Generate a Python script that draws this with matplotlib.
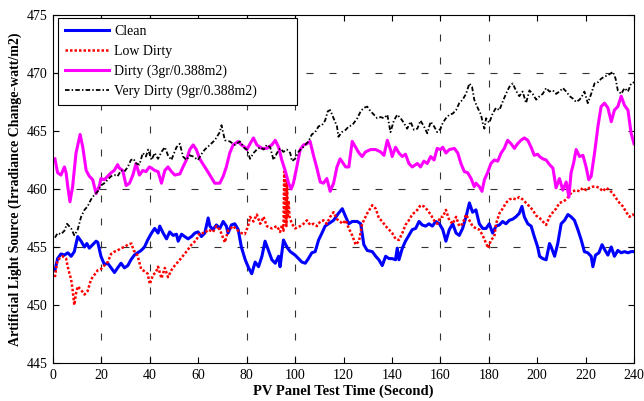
import matplotlib
matplotlib.use("Agg")
import matplotlib.pyplot as plt

plt.rcParams['font.family'] = ['Liberation Serif', 'DejaVu Serif']

# --- data ---
clean_t = [0.8, 1.9, 3.3, 4.7, 6.1, 7.5, 8.8, 10.2, 11.6, 13.0, 14.0, 15.0, 16.4, 17.8, 18.5, 19.8, 21.2, 22.6,
           24.0, 25.4, 26.7, 28.1, 29.5, 30.9, 32.2, 33.6, 35.0, 36.4, 37.8, 39.1, 40.7, 42.0, 43.4, 44.1, 45.5,
           46.9, 48.2, 49.6, 51.0, 51.7, 53.1, 54.4, 55.8, 57.2, 58.6, 59.9, 61.3, 62.7, 64.1, 64.8, 66.1, 67.5,
           68.9, 70.3, 71.6, 72.3, 73.7, 75.1, 76.5, 77.8, 79.4, 80.8, 82.1, 83.5, 84.9, 86.3, 87.6, 89.0, 90.4,
           91.8, 93.2, 93.8, 95.2, 96.6, 98.0, 100.0, 101.4, 102.8, 104.2, 105.5, 106.9, 108.3, 109.7, 111.1,
           112.4, 113.8, 115.9, 117.9, 119.5, 120.9, 122.2, 123.6, 125.7, 127.1, 128.4, 129.8, 131.9, 133.3,
           134.6, 136.0, 137.4, 138.8, 140.1, 141.5, 142.2, 142.9, 144.3, 145.6, 147.0, 148.4, 149.8, 151.2,
           152.5, 153.9, 155.3, 156.7, 158.1, 159.6, 161.0, 162.3, 163.7, 165.1, 166.5, 167.8, 169.2, 170.6,
           172.0, 173.3, 174.7, 176.1, 177.5, 178.9, 180.2, 181.6, 183.0, 184.4, 185.7, 187.1, 188.5, 189.9,
           191.2, 192.6, 193.7, 194.7, 196.1, 197.5, 198.8, 200.2, 201.0, 202.3, 203.7, 205.1, 205.8, 207.2,
           208.5, 209.9, 211.3, 212.7, 214.0, 215.4, 216.8, 218.2, 219.5, 220.9, 222.3, 223.0, 224.1, 225.5,
           226.8, 227.8, 229.2, 230.6, 231.9, 233.3, 234.7, 236.1, 237.5, 238.8, 240.0]
clean_v = [453.0, 454.0, 454.4, 454.3, 454.5, 454.2, 454.6, 455.9, 455.5, 455.0, 455.3, 454.9, 455.2, 455.5,
           455.4, 454.2, 453.5, 453.6, 453.2, 452.8, 453.2, 453.6, 453.2, 453.4, 453.9, 454.3, 454.5, 454.7,
           455.0, 455.6, 456.2, 456.6, 456.2, 456.8, 456.2, 455.7, 456.3, 456.0, 456.1, 455.5, 456.1, 455.9,
           455.7, 455.9, 456.2, 456.3, 455.9, 456.2, 457.5, 456.8, 456.5, 456.9, 456.6, 457.2, 456.8, 456.2,
           456.9, 457.0, 456.5, 455.0, 453.9, 453.2, 452.7, 453.7, 453.3, 454.2, 455.5, 454.7, 453.9, 453.6,
           454.2, 453.3, 455.6, 455.0, 454.6, 454.3, 454.0, 453.7, 453.6, 454.0, 454.5, 454.6, 455.6, 456.2,
           456.8, 457.0, 457.3, 457.9, 458.3, 457.6, 457.0, 457.2, 457.2, 457.0, 455.2, 454.7, 454.6, 454.2,
           453.9, 453.4, 454.2, 454.0, 454.0, 453.9, 454.9, 453.9, 454.9, 455.5, 456.0, 456.5, 456.6, 457.2,
           456.9, 456.8, 457.0, 456.8, 457.2, 457.0, 456.5, 455.5, 456.5, 457.0, 456.2, 456.0, 456.6, 457.6,
           458.8, 458.0, 458.2, 457.0, 456.6, 456.6, 457.0, 456.2, 456.8, 456.9, 457.2, 457.0, 457.3, 457.4,
           457.6, 457.9, 458.5, 457.6, 457.0, 456.8, 455.9, 455.0, 454.2, 454.0, 453.9, 455.3, 455.0, 454.2,
           455.3, 457.0, 457.3, 457.8, 457.6, 457.3, 456.5, 455.6, 454.6, 454.5, 454.2, 453.3, 454.3, 454.5,
           455.2, 454.8, 454.3, 455.0, 454.2, 454.7, 454.5, 454.6, 454.5, 454.6, 454.6]

low_t = [0.8, 1.7, 2.6, 4.0, 5.4, 6.1, 6.8, 7.5, 8.1, 8.8, 9.5, 10.2, 11.6, 13.0, 14.3, 15.7, 17.1, 18.5,
         19.8, 21.2, 22.6, 24.0, 25.4, 26.7, 28.1, 29.5, 30.9, 32.4, 33.3, 34.3, 35.0, 36.4, 37.8, 39.1, 40.0,
         41.3, 42.5, 43.4, 44.8, 46.2, 47.5, 48.9, 50.3, 52.4, 55.1, 57.2, 59.2, 60.6, 62.7, 64.1, 66.1, 67.5,
         68.9, 71.0, 72.3, 74.4, 75.8, 77.8, 79.2, 80.6, 81.4, 82.8, 84.2, 85.6, 87.0, 88.3, 90.4, 92.5, 93.8,
         94.6, 95.2, 95.5, 95.8, 96.1, 96.4, 96.7, 97.0, 97.3, 97.7, 98.7, 100.0, 102.1, 103.5, 104.9, 106.2,
         107.6, 109.0, 110.4, 111.7, 113.1, 114.5, 115.9, 117.3, 118.6, 119.5, 120.9, 122.2, 123.6, 125.0,
         126.4, 127.7, 129.8, 131.9, 133.3, 134.6, 136.0, 137.4, 138.8, 140.1, 141.5, 142.9, 144.3, 145.6,
         147.0, 148.4, 150.5, 151.8, 153.2, 154.6, 156.0, 157.4, 158.7, 160.1, 161.0, 162.3, 163.7, 165.1,
         166.5, 167.8, 169.2, 170.6, 172.0, 173.3, 174.7, 176.1, 177.5, 178.9, 179.8, 180.9, 182.3, 183.0,
         184.4, 185.7, 187.1, 188.5, 189.9, 191.2, 192.6, 194.0, 195.4, 196.8, 198.1, 199.6, 201.0, 202.3,
         203.7, 205.1, 206.5, 207.8, 209.2, 210.6, 212.0, 213.4, 214.7, 216.1, 217.5, 218.9, 220.2, 221.6,
         223.0, 224.4, 225.7, 227.1, 228.5, 229.9, 231.3, 232.6, 234.0, 235.4, 236.8, 238.1, 239.5, 240.0]
low_v = [452.4, 453.7, 454.0, 454.2, 454.0, 453.3, 452.7, 452.2, 451.3, 450.0, 451.0, 451.6, 451.3, 450.9,
         451.2, 452.2, 452.6, 453.0, 453.1, 453.4, 453.7, 454.4, 454.6, 454.7, 454.9, 455.0, 455.2, 455.3,
         454.7, 454.5, 454.2, 453.1, 452.9, 452.7, 451.8, 452.6, 452.8, 453.3, 452.3, 453.2, 452.4, 453.0,
         453.4, 453.9, 454.6, 455.2, 455.6, 456.2, 456.2, 456.5, 456.3, 456.8, 456.5, 455.4, 456.4, 456.8,
         456.5, 456.2, 456.1, 456.8, 457.6, 457.2, 457.8, 457.0, 457.6, 456.8, 456.6, 456.8, 456.3, 456.9,
         456.4, 461.5, 457.0, 461.3, 456.8, 460.5, 457.5, 459.0, 457.6, 457.0, 456.6, 456.8, 457.0, 457.3,
         456.9, 457.0, 456.8, 457.2, 457.3, 457.0, 457.6, 458.0, 457.4, 457.2, 457.0, 457.3, 456.6, 456.0,
         455.2, 455.5, 457.0, 457.9, 458.6, 458.3, 457.5, 457.2, 456.8, 456.5, 456.2, 455.7, 455.6, 456.2,
         456.9, 457.3, 457.8, 458.2, 458.6, 458.5, 458.2, 457.8, 457.3, 457.0, 457.6, 457.6, 458.2, 457.3,
         457.0, 457.6, 456.8, 457.0, 457.8, 457.3, 456.8, 456.6, 456.5, 456.0, 455.3, 454.9, 455.6, 455.9,
         457.0, 457.9, 458.3, 458.8, 459.1, 459.2, 459.1, 459.3, 459.1, 458.8, 458.5, 458.2, 457.7, 457.5,
         457.2, 456.9, 457.6, 458.0, 458.3, 458.8, 458.9, 459.1, 459.5, 459.8, 459.9, 459.8, 460.1, 459.9,
         460.1, 460.2, 460.2, 460.1, 459.8, 460.1, 459.9, 459.6, 459.2, 458.8, 458.5, 458.0, 457.6, 457.8,
         457.7]

dirty_t = [0.8, 1.9, 3.3, 4.7, 5.4, 6.1, 7.0, 8.1, 9.5, 11.2, 12.3, 13.7, 15.0, 16.4, 17.8, 19.2, 19.8, 21.2,
           22.6, 24.0, 25.3, 26.7, 27.4, 28.8, 30.2, 31.6, 33.0, 34.3, 35.7, 37.1, 38.4, 39.8, 40.7, 42.0, 43.4,
           44.8, 46.2, 47.5, 48.9, 50.3, 52.4, 53.7, 55.1, 56.5, 57.9, 59.2, 60.6, 62.7, 64.8, 66.8, 68.9, 70.3,
           71.6, 73.0, 74.4, 76.5, 77.8, 79.2, 80.1, 81.4, 82.8, 84.2, 86.3, 88.3, 90.4, 91.8, 93.2, 94.5, 95.9,
           97.3, 98.4, 99.3, 100.7, 102.1, 103.5, 104.9, 106.2, 107.6, 109.0, 110.4, 111.7, 113.1, 114.5, 115.9,
           117.3, 118.6, 120.9, 122.2, 123.6, 125.0, 126.4, 127.7, 129.1, 131.2, 133.3, 135.3, 136.7, 138.1,
           139.4, 140.1, 141.5, 142.9, 144.3, 145.6, 147.0, 148.4, 150.5, 151.8, 153.2, 154.6, 156.0, 157.4,
           158.7, 160.1, 161.0, 162.3, 163.7, 165.8, 167.2, 168.5, 169.9, 171.3, 172.7, 174.0, 174.7, 176.1,
           177.2, 178.2, 179.5, 180.9, 182.3, 183.7, 185.1, 186.4, 187.8, 189.2, 190.6, 191.9, 193.3, 194.7,
           196.1, 197.5, 198.8, 200.2, 201.0, 202.3, 203.7, 205.1, 206.5, 207.8, 209.2, 210.6, 212.0, 213.1,
           214.0, 215.0, 216.1, 217.5, 218.9, 220.2, 221.3, 222.3, 223.7, 225.1, 226.4, 227.8, 229.2, 230.6,
           231.9, 233.3, 234.7, 236.1, 237.5, 238.8, 240.0]
dirty_v = [462.6, 461.4, 461.2, 461.9, 461.4, 460.2, 458.9, 460.2, 463.1, 464.7, 463.6, 461.6, 461.1, 460.8,
           459.6, 460.3, 460.9, 460.8, 461.1, 461.4, 461.6, 462.1, 461.8, 461.6, 460.3, 460.5, 461.2, 462.2,
           461.2, 461.6, 461.5, 461.9, 461.8, 461.6, 461.5, 460.5, 461.6, 461.9, 461.5, 461.2, 461.3, 461.9,
           462.5, 463.4, 463.8, 463.4, 462.6, 461.9, 461.2, 460.5, 460.5, 461.1, 461.9, 463.1, 463.8, 464.1,
           463.8, 463.6, 463.4, 463.9, 464.4, 463.8, 463.5, 463.5, 463.8, 464.2, 463.6, 462.5, 461.6, 460.5,
           460.0, 460.5, 461.9, 463.4, 463.8, 463.9, 464.1, 462.9, 461.8, 460.6, 460.5, 460.9, 459.8, 460.5,
           461.9, 462.6, 461.9, 461.9, 464.1, 463.6, 463.1, 462.8, 463.2, 463.4, 463.4, 463.2, 462.9, 464.2,
           463.4, 462.8, 463.6, 463.1, 462.8, 463.0, 462.2, 461.9, 462.2, 461.9, 462.4, 462.2, 462.8, 462.5,
           463.5, 463.4, 463.6, 463.1, 463.4, 463.5, 463.1, 462.2, 461.5, 461.4, 460.9, 460.2, 460.5, 460.2,
           459.8, 460.8, 461.4, 462.2, 462.5, 462.4, 463.1, 463.5, 464.2, 463.9, 463.5, 463.9, 464.2, 464.4,
           464.2, 463.6, 462.9, 463.0, 462.8, 462.6, 462.5, 462.1, 461.8, 460.1, 460.9, 459.9, 460.6, 459.3,
           461.4, 462.2, 463.4, 462.8, 462.9, 461.9, 460.8, 461.1, 463.1, 465.4, 467.1, 467.4, 467.0, 465.8,
           466.8, 467.1, 468.0, 467.2, 466.8, 464.8, 463.9]

very_t = [0.8, 1.9, 3.3, 4.7, 5.8, 7.5, 8.8, 10.2, 11.6, 13.0, 14.3, 15.7, 17.1, 18.5, 19.8, 21.2, 22.6, 24.0,
          25.4, 26.7, 28.1, 29.5, 30.9, 32.2, 33.3, 34.3, 35.7, 37.1, 38.4, 39.3, 40.7, 42.0, 43.4, 44.8, 46.2,
          47.5, 48.9, 51.0, 52.4, 53.7, 55.1, 56.5, 57.9, 59.9, 61.3, 62.7, 64.8, 66.8, 68.9, 69.6, 71.0, 73.0,
          75.1, 77.2, 79.2, 80.1, 81.4, 82.8, 84.2, 85.6, 87.0, 88.3, 89.7, 91.1, 92.5, 93.8, 95.2, 96.6, 98.0,
          98.7, 100.0, 101.4, 102.8, 104.2, 105.5, 106.9, 108.3, 109.7, 111.1, 112.4, 113.5, 114.5, 115.9,
          117.3, 117.9, 119.3, 120.9, 122.2, 123.6, 125.7, 127.1, 128.4, 129.8, 131.2, 132.6, 133.9, 135.3,
          136.7, 138.1, 139.4, 140.8, 142.2, 143.6, 144.9, 146.3, 147.7, 149.1, 150.5, 151.8, 153.2, 154.6,
          156.0, 157.4, 158.7, 160.1, 161.0, 162.3, 163.7, 165.1, 166.5, 167.8, 169.2, 170.6, 172.0, 173.1,
          174.0, 175.4, 176.8, 177.5, 178.2, 178.9, 180.2, 181.6, 183.0, 184.4, 185.7, 187.1, 188.5, 189.9,
          191.2, 192.6, 194.0, 195.4, 196.8, 198.1, 199.6, 201.0, 202.3, 203.7, 205.1, 206.5, 207.8, 209.2,
          210.6, 212.0, 213.4, 214.7, 216.1, 217.5, 218.5, 219.5, 220.9, 222.3, 223.7, 225.1, 226.4, 227.8,
          229.2, 231.3, 232.4, 233.3, 234.7, 236.1, 237.5, 238.8, 240.0]
very_v = [455.8, 456.2, 456.1, 456.4, 457.0, 456.6, 456.0, 456.5, 457.6, 458.2, 458.5, 459.1, 459.5, 459.8,
          460.3, 460.5, 460.8, 461.1, 461.2, 461.1, 461.6, 461.5, 461.9, 462.5, 462.6, 462.2, 462.1, 463.1,
          462.8, 463.4, 462.5, 463.1, 462.6, 463.2, 463.6, 462.9, 462.5, 463.6, 463.9, 462.8, 462.5, 462.9,
          462.8, 462.5, 463.0, 463.4, 463.8, 464.2, 464.9, 465.5, 464.2, 464.1, 463.8, 464.1, 463.5, 463.4,
          462.6, 463.1, 463.4, 463.6, 463.4, 463.8, 463.6, 462.5, 463.1, 463.5, 463.2, 463.4, 463.1, 462.4,
          462.6, 463.2, 463.5, 463.8, 464.1, 464.7, 464.9, 465.4, 465.5, 465.9, 466.7, 466.8, 466.1, 465.4,
          464.5, 464.9, 465.1, 465.4, 465.5, 466.1, 466.7, 467.0, 467.1, 466.7, 466.4, 466.1, 466.2, 466.1,
          466.4, 464.9, 465.9, 466.4, 466.1, 465.7, 465.2, 465.8, 465.1, 465.2, 465.9, 465.4, 464.8, 465.8,
          465.4, 464.9, 465.2, 465.7, 466.1, 466.4, 466.5, 466.8, 467.4, 467.7, 468.2, 469.1, 468.8, 467.7,
          467.0, 466.4, 465.7, 465.2, 466.1, 465.7, 466.5, 467.0, 466.8, 467.5, 468.2, 468.8, 469.1, 468.5,
          468.0, 468.4, 467.4, 468.5, 468.2, 467.7, 468.0, 468.2, 468.7, 468.4, 468.5, 468.2, 468.4, 468.7,
          468.4, 468.0, 467.8, 467.5, 467.7, 468.0, 468.4, 467.4, 468.2, 469.1, 469.2, 469.5, 469.7, 469.8,
          470.1, 469.5, 468.5, 468.2, 468.7, 468.4, 469.1, 469.2]

labels = ['Clean', 'Low Dirty', 'Dirty (3gr/0.388m2)', 'Very Dirty (9gr/0.388m2)']
x_ticks = list(range(0, 241, 20))
y_ticks = list(range(445, 476, 5))
# only these grid lines survive in the reference picture
x_grid_shown = [20, 40, 80, 100, 160, 180]
y_grid_shown = [455, 460, 470]

fig = plt.figure(figsize=(6.44, 4.01), dpi=100)
ax = fig.add_axes([0.0823, 0.0948, 0.9022, 0.8678])

ax.plot(clean_t, clean_v, color='#0000ff', lw=2.2, label=labels[0])
ax.plot(low_t, low_v, color='#ff0000', lw=1.8, ls=(0, (1, 0.8)), label=labels[1])
ax.plot(dirty_t, dirty_v, color='#ff00ff', lw=2.2, label=labels[2])
ax.plot(very_t, very_v, color='black', lw=1.3, ls=(0, (2.5, 1.2, 0.8, 1.2)), label=labels[3])

ax.set_xlim(0, 240)
ax.set_ylim(445, 475)
ax.set_xticks(x_ticks)
ax.set_yticks(y_ticks)
ax.tick_params(direction='in', top=True, right=True, length=4, width=0.8, labelsize=10, pad=4)

ax.grid(True, color='0.2', lw=0.8, dashes=(6.3, 14.4))
for v, gl in zip(x_ticks, ax.xaxis.get_gridlines()):
    gl.set_visible(v in x_grid_shown)
for v, gl in zip(y_ticks, ax.yaxis.get_gridlines()):
    gl.set_visible(v in y_grid_shown)

for s in ax.spines.values():
    s.set_linewidth(0.8)

ax.set_xlabel('PV Panel Test Time (Second)', fontsize=10.5, fontweight='bold', labelpad=2)
ax.set_ylabel('Artificial Light Source (Irradiance Change-watt/m2)', fontsize=10, fontweight='bold', labelpad=3)

# wide legend box like the original (text left aligned, empty space on the right)
leg = ax.legend(loc='upper left', bbox_to_anchor=(0.0086, 0.991, 0.411, 0), mode='expand',
                borderaxespad=0, fontsize=10, handlelength=3.2, handletextpad=0.35,
                labelspacing=0.48, borderpad=0.5,
                fancybox=False, framealpha=1, edgecolor='black')
leg.get_frame().set_linewidth(0.8)

fig.savefig('out.png', dpi=100)
